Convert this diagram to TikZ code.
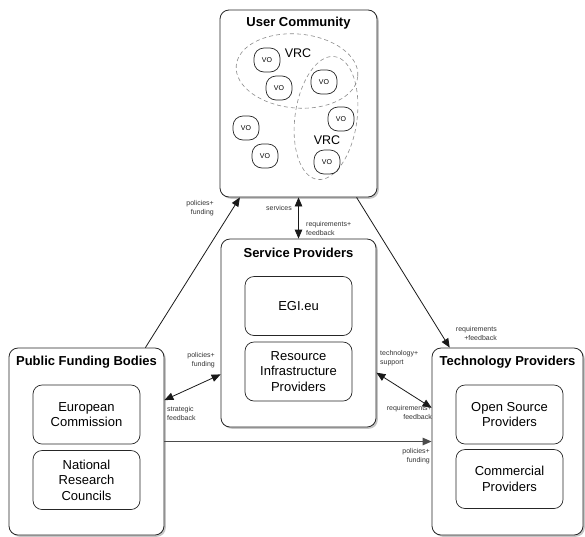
\documentclass[tikz,border=0pt]{standalone}
\usepackage{fontspec}
\setmainfont{Liberation Sans}
\usetikzlibrary{shapes, arrows.meta, shadows}

\begin{document}
\begin{tikzpicture}[x=1pt, y=-1pt, >={Triangle[length=9pt, width=7.5pt]},
  group/.style={rectangle, draw=black!85, line width=0.8pt, rounded corners=9pt, fill=white, drop shadow={shadow xshift=1.8pt, shadow yshift=-1.8pt, opacity=0.45}},
  member/.style={rectangle, draw=black!85, line width=0.7pt, rounded corners=9pt, fill=white, minimum width=107pt, minimum height=59pt, align=center, font=\fontsize{13}{15.5}\selectfont},
  title/.style={font=\bfseries\fontsize{13}{15}\selectfont},
  vo/.style={rectangle, draw=black!85, line width=0.7pt, rounded corners=10pt, minimum width=26pt, minimum height=24pt, inner sep=0pt, font=\fontsize{7}{8}\selectfont},
  vrc/.style={draw=black!45, dash pattern=on 4pt off 3pt, line width=0.6pt},
  link/.style={line width=0.8pt, draw=black!90},
  note/.style={font=\fontsize{7}{9}\selectfont, text=black!80, inner sep=0pt}]
\useasboundingbox (0, 0) rectangle (585, 536);

\node[group, minimum width=157pt, minimum height=187pt] (uc) at (298.5, 103.5) {};
\node[group, minimum width=155pt, minimum height=188pt] (sp) at (298.5, 333) {};
\node[group, minimum width=155pt, minimum height=187pt] (pfb) at (86.5, 441.5) {};
\node[group, minimum width=151pt, minimum height=187pt] (tp) at (507.5, 441.5) {};

\node[title] (uctitle) at (298.5, 23) {User Community};
\node[title] (sptitle) at (298.5, 253) {Service Providers};
\node[title] (pfbtitle) at (86.5, 362) {Public Funding Bodies};
\node[title] (tptitle) at (507.5, 362) {Technology Providers};

\node[member] (egi) at (298.5, 306) {EGI.eu};
\node[member] (rip) at (298.5, 371.5) {Resource\\Infrastructure\\Providers};
\node[member] (ec) at (86.5, 414.5) {European\\Commission};
\node[member] (nrc) at (86.5, 480) {National\\Research\\Councils};
\node[member] (osp) at (509.5, 414.5) {Open Source\\Providers};
\node[member] (cp) at (509.5, 479) {Commercial\\Providers};

\draw[vrc, rotate around={-5:(297, 71)}] (297, 71) ellipse [x radius=61, y radius=37];
\draw[vrc, rotate around={-8:(326, 118)}] (326, 118) ellipse [x radius=31, y radius=62];
\foreach \i/\x/\y in {1/267/60, 2/279/88, 3/324/82, 4/341/119, 5/246/128, 6/265/156, 7/327/162}
  \node[vo] (vo\i) at (\x, \y) {VO};
\node[font=\fontsize{12.5}{14}\selectfont] (vrca) at (298, 53) {VRC};
\node[font=\fontsize{12.5}{14}\selectfont] (vrcb) at (327, 140) {VRC};

\draw[link, ->] (pfb) -- (uc);
\draw[link, ->] (uc) -- (tp);
\draw[link, <->] (uc) -- (sp);
\draw[link, <->] (pfb.28) -- (sp.208);
\draw[link, <->] (sp.-27) -- (tp.156);
\draw[link, ->, line width=1.2pt, draw=black!70] (pfb.east) -- (pfb.east -| tp.west);

\node[note, anchor=east, align=right] (l1) at (214, 208) {policies+\\funding};
\node[note, anchor=east] (l2) at (292, 208) {services};
\node[note, anchor=west, align=left] (l3) at (306, 228) {requirements+\\feedback};
\node[note, anchor=east, align=right] (l4) at (497, 333) {requirements\\+feedback};
\node[note, anchor=east, align=right] (l5) at (215, 360) {policies+\\funding};
\node[note, anchor=west, align=left] (l6) at (167, 413) {strategic\\feedback};
\node[note, anchor=west, align=left] (l7) at (380, 358) {technology+\\support};
\node[note, anchor=east, align=right] (l8) at (432, 412) {requirements+\\feedback};
\node[note, anchor=east, align=right] (l9) at (430, 456) {policies+\\funding};
\end{tikzpicture}
\end{document}
